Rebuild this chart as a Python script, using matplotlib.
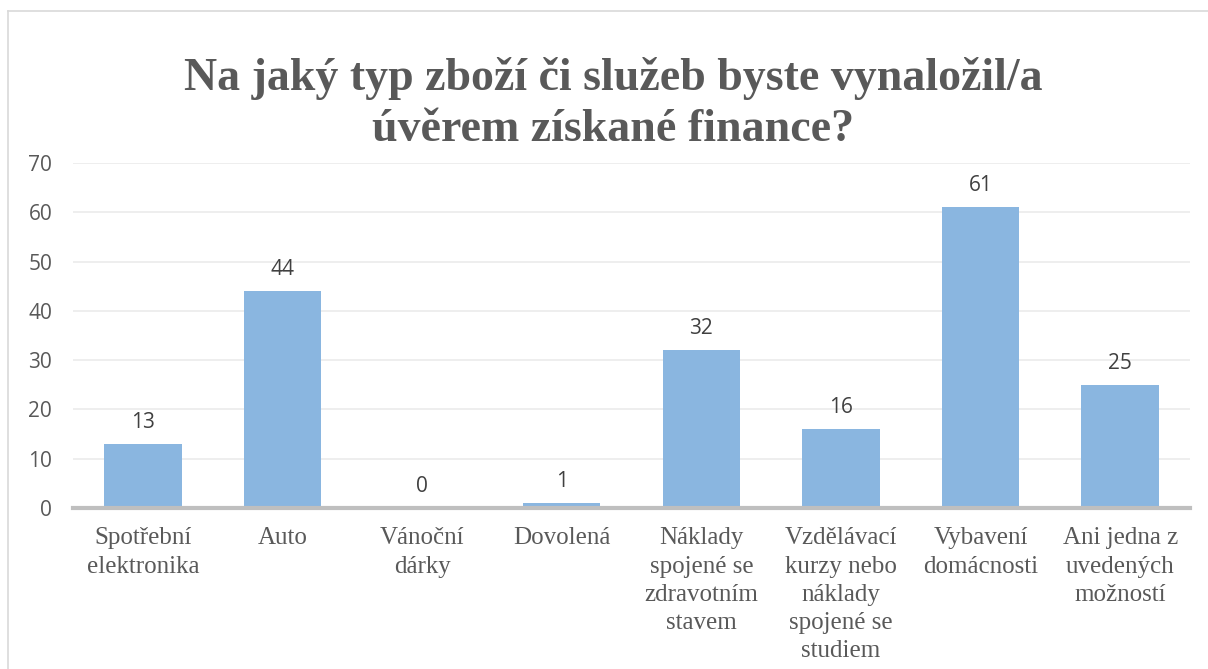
import matplotlib.pyplot as plt
from matplotlib.lines import Line2D

# data
categories = [
    "Spotřební\nelektronika",
    "Auto",
    "Vánoční\ndárky",
    "Dovolená",
    "Náklady\nspojené se\nzdravotním\nstavem",
    "Vzdělávací\nkurzy nebo\nnáklady\nspojené se\nstudiem",
    "Vybavení\ndomácnosti",
    "Ani jedna z\nuvedených\nmožností",
]
values = [13, 44, 0, 1, 32, 16, 61, 25]
yticks = [0, 10, 20, 30, 40, 50, 60, 70]
title = "Na jaký typ zboží či služeb byste vynaložil/a\núvěrem získané finance?"

W, H = 1208, 669
fig = plt.figure(figsize=(W / 100, H / 100), dpi=100)
fig.patch.set_facecolor("white")

# chart frame (cut off at right and bottom)
fig.add_artist(Line2D([8 / W, 1], [1 - 11 / H, 1 - 11 / H], color="#d9d9d9", lw=1.2))
fig.add_artist(Line2D([8 / W, 8 / W], [0, 1 - 11 / H], color="#d9d9d9", lw=1.2))

ax = fig.add_axes([73 / W, 1 - 508 / H, (1190 - 73) / W, (508 - 163) / H])
x = range(len(categories))
ax.bar(x, values, width=0.555, color="#8ab6e0", zorder=2)

ax.set_xlim(-0.5, len(categories) - 0.5)
ax.set_ylim(0, 70)
ax.set_yticks(yticks)
ax.set_yticklabels([str(t) for t in yticks], fontfamily="Open Sans", fontsize=15, color="#595959")
ax.set_xticks(list(x))
ax.set_xticklabels(categories, fontfamily="Liberation Serif", fontsize=18,
                   color="#595959", linespacing=1.36)
ax.tick_params(axis="both", length=0)
ax.tick_params(axis="x", pad=14)
ax.tick_params(axis="y", pad=15)

ax.grid(axis="y", color="#ebebeb", lw=1.2, zorder=0)
for s in ["top", "right", "left"]:
    ax.spines[s].set_visible(False)
ax.spines["bottom"].set_color("#bfbfbf")
ax.spines["bottom"].set_linewidth(3)
ax.spines["bottom"].set_zorder(3)

# value labels above bars
for xi, v in zip(x, values):
    ax.annotate(str(v), (xi, v), xytext=(0, 8), textcoords="offset points",
                ha="center", va="bottom", fontfamily="Open Sans", fontsize=15,
                color="#404040")

fig.text(613 / W, 1 - 104 / H, title, ha="center", va="center",
         fontfamily="Liberation Serif", fontweight="bold", fontsize=33,
         color="#595959", linespacing=1.3)

fig.savefig("out.png", dpi=100)
